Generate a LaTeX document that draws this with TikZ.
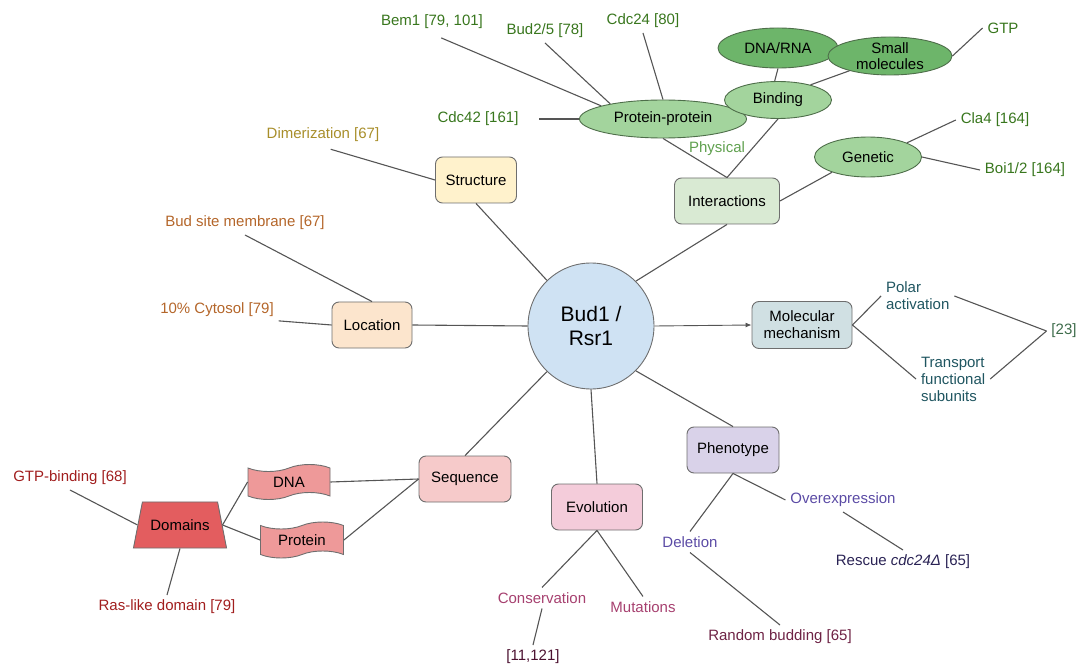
\documentclass[tikz,border=0pt]{standalone}
\usepackage{fontspec}
\setmainfont{Liberation Sans}
\usetikzlibrary{shapes.geometric,shapes.symbols,arrows.meta}

\definecolor{linegray}{HTML}{555555}
\definecolor{boxline}{HTML}{6E6E6E}
\definecolor{hubfill}{HTML}{CFE2F3}
\definecolor{structfill}{HTML}{FFF2CC}
\definecolor{locfill}{HTML}{FCE5CD}
\definecolor{interfill}{HTML}{D9EAD3}
\definecolor{molfill}{HTML}{D0E0E3}
\definecolor{phenofill}{HTML}{D9D2E9}
\definecolor{evofill}{HTML}{F4CCDA}
\definecolor{seqfill}{HTML}{F6CACA}
\definecolor{tapefill}{HTML}{EE9999}
\definecolor{domfill}{HTML}{E35D5F}
\definecolor{ltgreen}{HTML}{A3D49D}
\definecolor{dkgreen}{HTML}{6DB56A}
\definecolor{ovalline}{HTML}{4E6E4A}
\definecolor{grntext}{HTML}{38761D}
\definecolor{physgreen}{HTML}{5FA04E}
\definecolor{olivetext}{HTML}{A88E2A}
\definecolor{browntext}{HTML}{B4662A}
\definecolor{tealtext}{HTML}{1F5560}
\definecolor{reftext}{HTML}{3D6B4A}
\definecolor{redtext}{HTML}{A11E1E}
\definecolor{purpletext}{HTML}{5B4BA5}
\definecolor{navytext}{HTML}{2A2355}
\definecolor{maroontext}{HTML}{6E2345}
\definecolor{magtext}{HTML}{A6406F}
\definecolor{darkmag}{HTML}{4C1130}

\begin{document}
\begin{tikzpicture}[x=1pt,y=-1pt]
 \tikzset{hub/.style = {draw=boxline, circle, fill=hubfill, line width=0.9pt, minimum size=126pt, inner sep=0pt, align=center, font=\fontsize{21}{24}\selectfont}}
 \tikzset{box/.style = {draw=boxline, rounded corners=7pt, line width=0.9pt, minimum height=46pt, inner sep=0pt, align=center, font=\fontsize{15}{17}\selectfont}}
 \tikzset{oval/.style = {draw=ovalline, ellipse, line width=0.9pt, inner sep=0pt, align=center, font=\fontsize{15}{16}\selectfont}}
 \tikzset{tapebox/.style = {draw=boxline, tape, tape bend height=7pt, fill=tapefill, line width=0.9pt, inner sep=0pt, font=\fontsize{15}{17}\selectfont}}
 \tikzset{dombox/.style = {draw=boxline, trapezium, trapezium left angle=79, trapezium right angle=79, fill=domfill, line width=0.9pt, inner xsep=8pt, inner ysep=17.5pt, font=\fontsize{15}{17}\selectfont}}
 \tikzset{lbl/.style = {inner sep=1pt, outer sep=4pt, align=left, font=\fontsize{15}{17}\selectfont}}
 \tikzset{link/.style = {draw=linegray, line width=1.1pt}}

 \useasboundingbox (0,0) rectangle (1077,671);

 \node[hub] (bud) at (591,326) {Bud1 /\\Rsr1};

 \node[box, fill=structfill, minimum width=81pt] (struct) at (476,180) {Structure};
 \node[box, fill=locfill, minimum width=80pt] (loc) at (372,325) {Location};
 \node[box, fill=interfill, minimum width=105pt] (inter) at (727,201) {Interactions};
 \node[box, fill=molfill, minimum width=100pt, minimum height=47pt] (mol) at (802,325) {Molecular\\mechanism};
 \node[box, fill=phenofill, minimum width=92pt] (pheno) at (733,450) {Phenotype};
 \node[box, fill=evofill, minimum width=91pt] (evo) at (597,507) {Evolution};
 \node[box, fill=seqfill, minimum width=92pt] (seq) at (465,479) {Sequence};

 \node[oval, fill=ltgreen, minimum width=167pt, minimum height=38pt] (pp) at (663,119) {Protein-protein};
 \node[oval, fill=ltgreen, minimum width=107pt, minimum height=37pt] (bind) at (778,100) {Binding};
 \node[oval, fill=dkgreen, minimum width=120pt, minimum height=40pt] (dnarna) at (778,48) {DNA/RNA};
 \node[oval, fill=dkgreen, minimum width=124pt, minimum height=38pt, inner ysep=-2pt] (small) at (890,56) {Small\\molecules};
 \node[oval, fill=ltgreen, minimum width=107pt, minimum height=40pt] (genetic) at (868,157) {Genetic};

 \node[tapebox, minimum width=82pt, minimum height=35pt] (dna) at (289,482) {DNA};
 \node[tapebox, minimum width=83pt, minimum height=36pt] (prot) at (302,540) {Protein};
 \node[dombox] (dom) at (180,525) {Domains};

 \node[lbl, text=grntext] (bem1) at (432,22) {Bem1 [79, 101]};
 \node[lbl, text=grntext] (bud25) at (545,31) {Bud2/5 [78]};
 \node[lbl, text=grntext] (cdc24) at (643,21) {Cdc24 [80]};
 \node[lbl, text=grntext] (cdc42) at (478,119) {Cdc42 [161]};
 \node[lbl, text=grntext] (gtp) at (1003,28) {GTP};
 \node[lbl, text=grntext] (cla4) at (995,120) {Cla4 [164]};
 \node[lbl, text=grntext] (boi) at (1025,170) {Boi1/2 [164]};
 \node[lbl, text=physgreen] (phys) at (717,149) {Physical};

 \node[lbl, text=olivetext] (dimer) at (323,135) {Dimerization [67]};
 \node[lbl, text=browntext] (budsite) at (245,223) {Bud site membrane [67]};
 \node[lbl, text=browntext] (cyto) at (217,310) {10\% Cytosol [79]};

 \node[lbl, text=tealtext, anchor=west] (polar) at (881,296) {Polar\\activation};
 \node[lbl, text=tealtext, anchor=west] (transp) at (916,379) {Transport\\functional\\subunits};
 \node[lbl, text=reftext] (ref23) at (1064,331) {[23]};

 \node[lbl, text=redtext] (gtpb) at (70,478) {GTP-binding [68]};
 \node[lbl, text=redtext] (ras) at (167,607) {Ras-like domain [79]};

 \node[lbl, text=purpletext] (overx) at (843,500) {Overexpression};
 \node[lbl, text=purpletext] (deletion) at (690,542) {Deletion};
 \node[lbl, text=navytext] (rescue) at (903,562) {Rescue \textit{cdc24Δ} [65]};
 \node[lbl, text=maroontext] (random) at (780,637) {Random budding [65]};
 \node[lbl, text=magtext] (conserv) at (542,598) {Conservation};
 \node[lbl, text=magtext] (mut) at (643,607) {Mutations};
 \node[lbl, text=darkmag] (ref11) at (533,657) {[11,121]};

 \draw[link, shorten <=10pt] (bem1.south) -- (pp.168);
 \draw[link] (bud25.south) -- (pp.164);
 \draw[link] (cdc24.south) -- (pp.north);
 \draw[link, shorten <=16pt] (cdc42.east) -- (pp.west);
 \draw[link] (pp.south) -- (inter.north);
 \draw[link] (bind.south) -- (inter.north);
 \draw[link] (dnarna.south) -- (bind.100);
 \draw[link] (small.200) -- (bind.25);
 \draw[link] (small.east) -- (gtp.west);
 \draw[link] (genetic.203) -- (inter.east);
 \draw[link] (genetic.20) -- (cla4.west);
 \draw[link] (genetic.east) -- (boi.west);
 \draw[link] (inter.south) -- (bud.45);

 \draw[link] (struct.south) -- (bud.134);
 \draw[link, shorten <=8pt] (dimer.south) -- (struct.west);
 \draw[link] (loc.east) -- (bud.west);
 \draw[link] (budsite.south) -- (loc.north);
 \draw[link] (cyto.-10) -- (loc.west);

 \draw[link, line width=0.9pt, -{Latex[length=6pt,width=5pt]}] (bud.east) -- (mol.west);
 \draw[link] (mol.east) -- (polar.west);
 \draw[link] (mol.east) -- (transp.west);
 \draw[link] (polar.east) -- (ref23.west);
 \draw[link] (transp.east) -- (ref23.west);

 \draw[link] (bud.-45) -- (pheno.north);
 \draw[link] (bud.south) -- (evo.north);
 \draw[link] (bud.226) -- (seq.north);
 \draw[link] (dna.east) -- (seq.west);
 \draw[link] (prot.east) -- (seq.west);
 \draw[link] (dom.east) -- (dna.west);
 \draw[link] (dom.east) -- (prot.west);
 \draw[link] (gtpb.south) -- (dom.west);
 \draw[link] (dom.south) -- (ras.north);

 \draw[link] (evo.south) -- (conserv.north);
 \draw[link] (evo.south) -- (mut.north);
 \draw[link] (conserv.south) -- (ref11.north);
 \draw[link] (pheno.south) -- (deletion.north);
 \draw[link] (pheno.south) -- (overx.west);
 \draw[link] (overx.south) -- (rescue.north);
 \draw[link] (deletion.south) -- (random.north);

\end{tikzpicture}
\end{document}
